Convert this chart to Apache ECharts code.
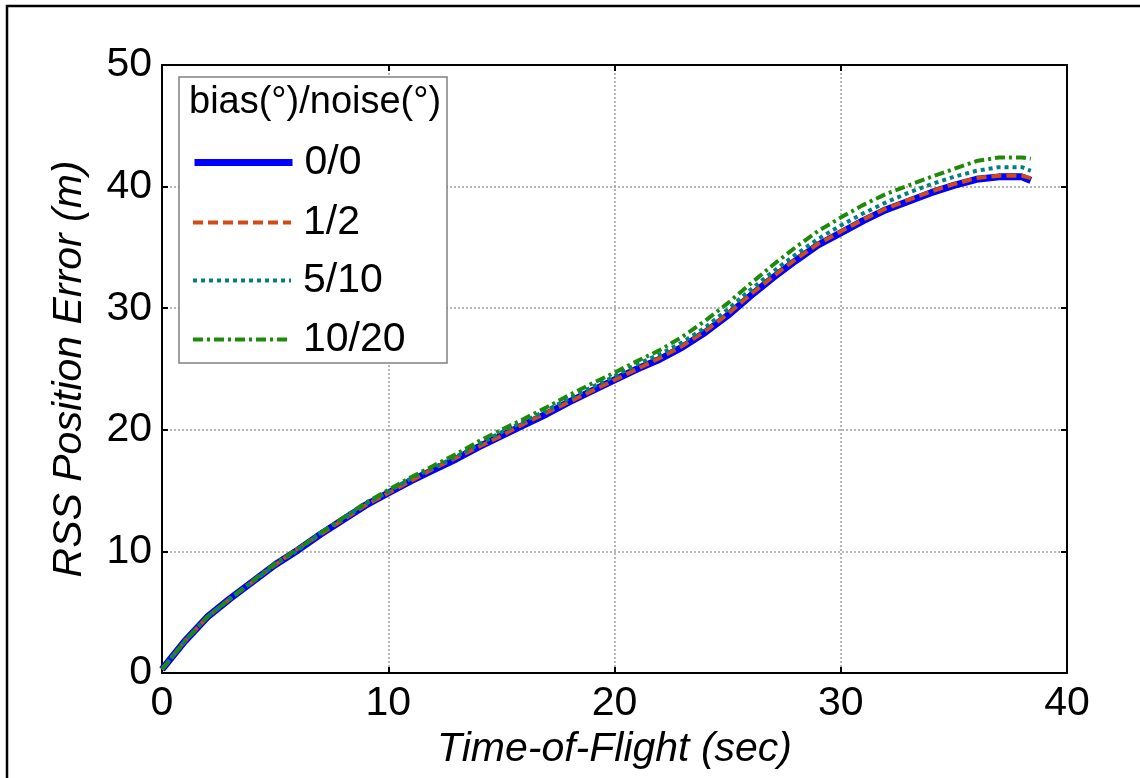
<!DOCTYPE html>
<html>
<head>
<meta charset="utf-8">
<script src="https://cdn.jsdelivr.net/npm/echarts@6/dist/echarts.min.js"></script>
<style>html,body{margin:0;padding:0;background:#fff;}#chart{width:1140px;height:778px;}</style>
</head>
<body>
<div id="chart"></div>
<script>
// ---- data ----
const time = [0,1,2,3,4,5,6,7,8,9,10,11,12,13,14,15,16,17,18,19,20,21,22,23,24,25,26,27,28,29,30,31,32,33,34,35,36,37,38,38.4];
const s00 = [0.3,2.6,4.6,6.1,7.5,8.9,10.1,11.4,12.6,13.8,14.8,15.8,16.7,17.6,18.6,19.5,20.4,21.3,22.3,23.2,24.1,25.0,25.8,26.8,28.0,29.4,31.0,32.5,33.9,35.2,36.2,37.2,38.1,38.8,39.5,40.1,40.6,40.8,40.8,40.5];
const s12 = [0.3,2.6,4.6,6.1,7.5,8.9,10.2,11.4,12.6,13.8,14.8,15.8,16.8,17.7,18.6,19.5,20.5,21.4,22.3,23.2,24.1,25.0,25.9,26.9,28.1,29.5,31.1,32.6,34.0,35.3,36.3,37.3,38.2,38.9,39.6,40.2,40.7,40.9,40.9,40.7];
const s510 = [0.3,2.6,4.6,6.1,7.5,8.9,10.1,11.5,12.7,13.9,14.9,16.0,16.9,17.8,18.8,19.8,20.7,21.6,22.6,23.5,24.4,25.4,26.2,27.2,28.4,29.9,31.5,33.0,34.4,35.7,36.8,37.8,38.7,39.5,40.2,40.8,41.3,41.6,41.6,41.3];
const s1020 = [0.3,2.6,4.6,6.1,7.55,9.0,10.2,11.5,12.75,14.0,15.05,16.1,17.05,18.0,19.05,20.0,20.9,21.85,22.85,23.8,24.7,25.65,26.55,27.65,28.95,30.4,32.0,33.55,35.0,36.35,37.45,38.5,39.4,40.1,40.8,41.45,42.1,42.4,42.4,42.3];
const seriesNames = ['0/0','1/2','5/10','10/20'];
const legendTitle = 'bias(°)/noise(°)';
const xTitle = 'Time-of-Flight (sec)';
const yTitle = 'RSS Position Error (m)';

const FONT = '"Liberation Sans", Arial, sans-serif';
const pair = (ys) => time.map((t, i) => [t, ys[i]]);
const values = [s00, s12, s510, s1020];
const styles = [
  {color:'#0000FF', width:7, type:'solid'},
  {color:'#D24A14', width:4, type:[10,5]},
  {color:'#008080', width:4, type:[4,4]},
  {color:'#1E8A0A', width:4, type:[10,4,3,4]}
];

const chart = echarts.init(document.getElementById('chart'), null, {renderer:'canvas'});
const axisCommon = {
  min: 0, interval: 10,
  axisLine: {show: true, onZero: false, lineStyle: {color:'#000', width: 2}},
  axisTick: {show: true, inside: true, length: 6, lineStyle: {color:'#000', width: 2}},
};
const legendCenters = [163, 223, 281, 340];
chart.setOption({
  animation: false,
  backgroundColor: '#fff',
  grid: {left: 162, top: 65, width: 905, height: 608, show: false},
  xAxis: [
    Object.assign({}, axisCommon, {
      type: 'value', max: 40, position: 'bottom',
      axisLabel: {fontSize: 41, fontFamily: FONT, color: '#000', margin: 10},
      splitLine: {show: true, lineStyle: {color:'#a0a0a0', width: 1.5, type: [2,2]}},
      name: xTitle, nameLocation: 'middle', nameGap: 55,
      nameTextStyle: {fontSize: 41, fontFamily: FONT, fontStyle: 'italic', color: '#000'}
    }),
    Object.assign({}, axisCommon, {
      type: 'value', max: 40, position: 'top',
      axisLabel: {show: false}, splitLine: {show: false}
    })
  ],
  yAxis: [
    Object.assign({}, axisCommon, {
      type: 'value', max: 50, position: 'left',
      axisLabel: {fontSize: 41, fontFamily: FONT, color: '#000', margin: 10},
      splitLine: {show: true, lineStyle: {color:'#a0a0a0', width: 1.5, type: [2,2]}},
      name: yTitle, nameLocation: 'middle', nameGap: 72,
      nameTextStyle: {fontSize: 41, fontFamily: FONT, fontStyle: 'italic', color: '#000'}
    }),
    Object.assign({}, axisCommon, {
      type: 'value', max: 50, position: 'right',
      axisLabel: {show: false}, splitLine: {show: false}
    })
  ],
  legend: seriesNames.map((n, i) => ({
    data: [n], orient: 'vertical', left: 191, top: legendCenters[i] - 21, padding: 0,
    itemWidth: 98, itemHeight: 14, z: 5,
    itemStyle: {opacity: 0, borderWidth: 0},
    lineStyle: {width: 'inherit', opacity: 1},
    textStyle: {fontSize: 41, fontFamily: FONT, color: '#000', padding: [0,0,0,7]},
    selectedMode: false
  })),
  graphic: [
    {type: 'rect', z: 10, silent: true, shape: {x: 7, y: 6, width: 1300, height: 1000},
     style: {fill: 'none', stroke: '#000', lineWidth: 2.5}},
    {type: 'rect', z: 3, silent: true, shape: {x: 179, y: 77, width: 268, height: 286},
     style: {fill: '#fff', stroke: '#808080', lineWidth: 1.5}},
    {type: 'text', z: 5, silent: true, x: 189, y: 103,
     style: {text: legendTitle, fontSize: 38, fontFamily: FONT, fill: '#000', verticalAlign: 'middle', align: 'left'}}
  ],
  series: values.map((v, i) => ({
    name: seriesNames[i], type: 'line', data: pair(v), symbol: 'none', showSymbol: false,
    xAxisIndex: 0, yAxisIndex: 0, smooth: false,
    lineStyle: {color: styles[i].color, width: styles[i].width, type: styles[i].type},
    itemStyle: {color: styles[i].color},
    z: 2 + i
  }))
});
</script>
</body>
</html>
